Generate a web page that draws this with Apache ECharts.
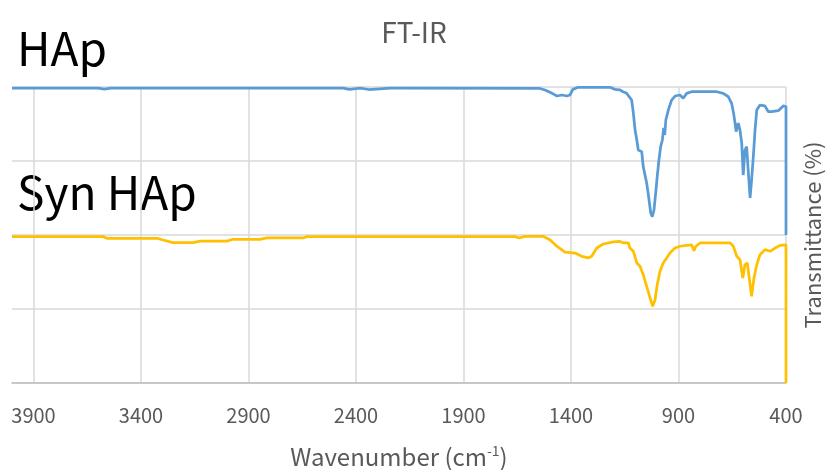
<!DOCTYPE html>
<html>
<head>
<meta charset="utf-8">
<script src="https://cdn.jsdelivr.net/npm/echarts@6/dist/echarts.min.js"></script>
<style>html,body{margin:0;padding:0;background:#fff}#c{width:828px;height:470px}</style>
</head>
<body>
<div id="c"></div>
<script>
const xTickLabels = ['3900','3400','2900','2400','1900','1400','900','400'];
const hapWavenumber = [4000,3600,3570,3540,2460,2430,2380,2340,2240,2200,1544,1521,1488,1465,1442,1419,1405,1391,1367,1219,1195,1172,1158,1141,1118,1110,1102,1094,1087,1071,1064,1048,1040,1029,1022,1014,1006,999,991,983,975,969,964,959,947,932,916,893,878,862,839,722,692,668,653,645,637,632,622,614,606,599,591,583,575,567,560,552,544,536,521,498,482,467,436,413,400,400];
const hapTransmittance = [199.3,199.3,198.6,199.3,199.3,198.4,199.2,198.3,199.3,199.3,199.0,198.0,195.7,193.9,194.6,193.9,194.6,198.4,199.8,199.8,198.4,198.0,196.8,195.7,191.2,182.4,170.9,164.2,157.4,156.3,146.2,135.1,127.0,114.7,112.4,116.9,128.4,139.4,150.7,159.7,164.2,172.3,167.6,177.7,184.5,191.2,193.9,194.6,192.4,195.7,196.8,196.8,195.7,193.4,189.0,183.3,175.7,169.8,175.7,170.9,162.2,140.5,157.4,159.7,141.9,125.0,137.2,152.9,170.9,184.5,187.8,187.2,183.3,183.3,184.0,187.2,186.8,100];
const synWavenumber = [4000,3577,3558,3325,3298,3251,3158,3125,3000,2972,2846,2814,2646,2628,1660,1640,1620,1605,1530,1498,1466,1428,1381,1350,1320,1304,1280,1250,1203,1172,1157,1133,1126,1110,1094,1079,1064,1048,1032,1020,1009,999,986,971,955,940,916,893,862,839,828,819,800,660,645,629,614,601,591,580,571,560,549,536,521,498,474,451,428,400,400];
const synTransmittance = [98.9,98.9,97.8,97.8,96.6,94.8,94.8,95.9,95.9,97.1,97.1,98.0,98.0,98.9,98.9,98.0,98.9,99.1,99.1,96.8,92.4,88.5,87.8,85.6,84.5,85.6,91.2,93.9,95.3,95.7,94.6,94.6,91.2,89.0,81.1,78.9,73.2,65.3,57.4,51.8,56.3,66.4,75.5,81.1,84.5,87.8,91.2,92.4,93.0,93.4,89.4,92.4,94.6,94.6,92.4,85.6,83.3,70.9,79.9,81.1,70.9,58.6,70.9,79.9,86.7,90.1,89.0,91.2,93.0,93.4,0];

const pair = (xs, ys) => xs.map((x, i) => [x, ys[i]]);
const FONT = '"Noto Sans CJK KR", "Noto Sans", sans-serif';
const chart = echarts.init(document.getElementById('c'), null, {renderer: 'canvas'});
chart.setOption({
  animation: false,
  backgroundColor: '#fff',
  title: {
    text: 'FT-IR', left: 'center', top: 13,
    textStyle: {color: '#595959', fontSize: 28, fontWeight: 'normal', fontFamily: FONT}
  },
  grid: {left: 12, right: 42, top: 87, bottom: 87, outerBoundsMode: 'none', containLabel: false},
  xAxis: {
    type: 'value', inverse: true, min: 400, max: 4000, interval: 500,
    name: '{a|Wavenumber (cm}{s|-1}{a|)}', nameLocation: 'middle', nameGap: 61,
    nameTextStyle: {rich: {
      a: {fontSize: 24, color: '#595959', fontFamily: FONT},
      s: {fontSize: 14, color: '#595959', fontFamily: FONT, verticalAlign: 'top', padding: [0,0,12,0]}
    }},
    axisLine: {lineStyle: {color: '#BFBFBF', width: 1.5}},
    axisTick: {show: false},
    axisLabel: {
      color: '#595959', fontSize: 20, fontFamily: FONT, margin: 22,
      formatter: v => (xTickLabels.indexOf(String(v)) >= 0 ? String(v) : '')
    },
    splitLine: {show: true, lineStyle: {color: ['#D9D9D9','#D9D9D9','#D9D9D9','#D9D9D9','#D9D9D9','#D9D9D9','#D9D9D9','#D9D9D9','rgba(0,0,0,0)'], width: 1.5}}
  },
  yAxis: {
    type: 'value', min: 0, max: 200, interval: 50, position: 'right',
    name: 'Transmittance (%)', nameLocation: 'middle', nameGap: 16, nameRotate: 90,
    nameTextStyle: {color: '#595959', fontSize: 22, fontFamily: FONT},
    axisLine: {show: false}, axisTick: {show: false}, axisLabel: {show: false},
    splitLine: {lineStyle: {color: '#D9D9D9', width: 1.5}}
  },
  graphic: [
    {type: 'text', left: 17, top: 26, style: {text: 'HAp', fontSize: 46, fill: '#000', fontFamily: FONT}},
    {type: 'text', left: 17, top: 170, style: {text: 'Syn HAp', fontSize: 46, fill: '#000', fontFamily: FONT}}
  ],
  series: [
    {name: 'HAp', type: 'line', data: pair(hapWavenumber, hapTransmittance), showSymbol: false,
     lineStyle: {color: '#5B9BD5', width: 2.75}, itemStyle: {color: '#5B9BD5'}},
    {name: 'Syn HAp', type: 'line', data: pair(synWavenumber, synTransmittance), showSymbol: false,
     lineStyle: {color: '#FFC000', width: 2.75}, itemStyle: {color: '#FFC000'}}
  ]
});
</script>
</body>
</html>
